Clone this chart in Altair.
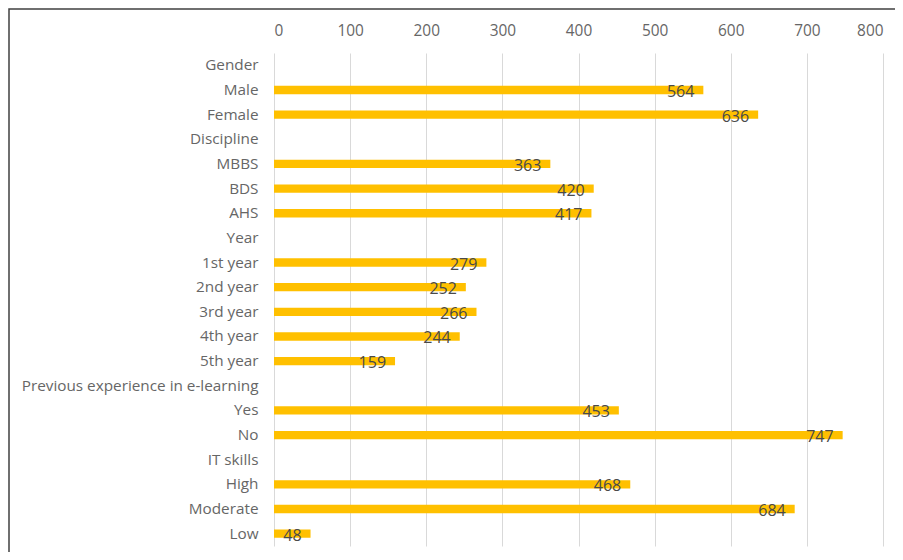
import altair as alt
import pandas as pd

categories = ["Gender", "Male", "Female", "Discipline", "MBBS", "BDS", "AHS",
              "Year", "1st year", "2nd year", "3rd year", "4th year", "5th year",
              "Previous experience in e-learning", "Yes", "No",
              "IT skills", "High", "Moderate", "Low"]
values = [None, 564, 636, None, 363, 420, 417,
          None, 279, 252, 266, 244, 159,
          None, 453, 747,
          None, 468, 684, 48]
x_ticks = [0, 100, 200, 300, 400, 500, 600, 700, 800]

df = pd.DataFrame({"category": categories, "value": values})

FONT = "Open Sans"

y_enc = alt.Y("category:N", sort=categories, title=None,
              scale=alt.Scale(paddingInner=0.66, paddingOuter=0.33),
              axis=alt.Axis(labelFont=FONT, labelFontSize=15.3, labelColor="#666666",
                            ticks=False, tickSize=0, domain=False, labelPadding=16,
                            grid=False, labelLimit=400))
x_enc = alt.X("value:Q", title=None,
              scale=alt.Scale(domain=[0, 800], nice=False),
              axis=alt.Axis(orient="top", values=x_ticks, labelFont=FONT, labelFontSize=15.4,
                            labelColor="#666666", ticks=False, tickSize=0, domain=False,
                            labelPadding=15, grid=True, gridColor="#d9d9d9", gridWidth=1))

bars = alt.Chart(df).mark_bar(color="#FFC000").encode(y=y_enc, x=x_enc)

labels = alt.Chart(df).transform_filter("isValid(datum.value)").mark_text(
    align="right", baseline="middle", dx=-9, dy=2, font=FONT, fontSize=16, color="#4a4a4a"
).encode(y=alt.Y("category:N", sort=categories), x=alt.X("value:Q"), text=alt.Text("value:Q"))

border = alt.Chart(alt.Data(values=[{"a": 1}])).mark_rect(
    fill=None, stroke="#404040", strokeWidth=1.5
).encode(x=alt.value(-265), x2=alt.value(700), y=alt.value(-44), y2=alt.value(700))

chart = alt.layer(bars, labels, border).properties(
    width=609, height=493,
    autosize=alt.AutoSizeParams(type="none"),
    padding={"left": 266, "top": 45, "right": 12, "bottom": 6},
).configure_view(stroke=None)

chart.save("out.html", embed_options={"renderer": "svg", "actions": False})
